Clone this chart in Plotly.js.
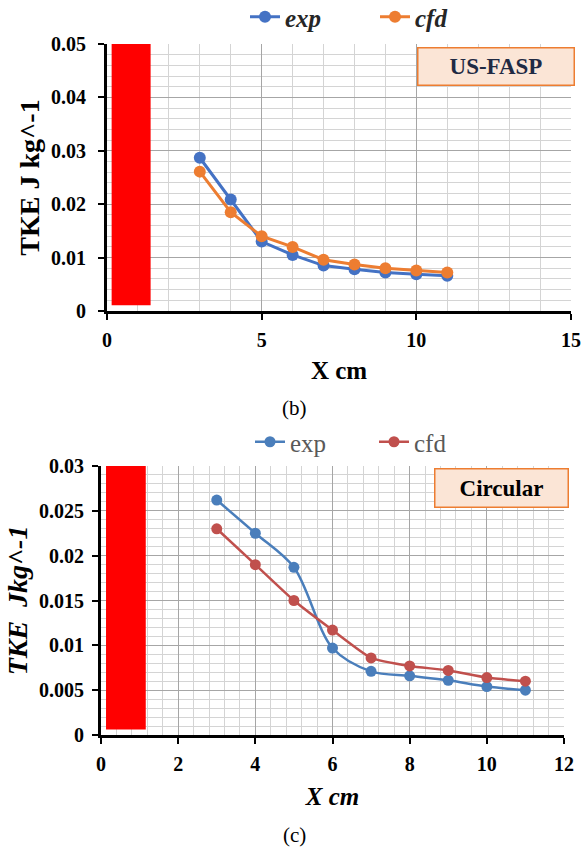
<!DOCTYPE html>
<html>
<head>
<meta charset="utf-8">
<script src="https://cdn.plot.ly/plotly-3.0.1.min.js"></script>
<style>
  html, body { margin: 0; padding: 0; background: #ffffff; }
  #chart { width: 588px; height: 853px; }
</style>
</head>
<body>
<div id="chart"></div>
<script>
// ---------- data ----------
const xPos = [3, 4, 5, 6, 7, 8, 9, 10, 11];

// (b) US-FASP
const fasp_exp = [0.0287, 0.0209, 0.0130, 0.0105, 0.0085, 0.0078, 0.0072, 0.0069, 0.0066];
const fasp_cfd = [0.0261, 0.0185, 0.0140, 0.0120, 0.0096, 0.0087, 0.0080, 0.0076, 0.0072];

// (c) Circular
const circ_exp = [0.0262, 0.0225, 0.0187, 0.0097, 0.0071, 0.0066, 0.0061, 0.0054, 0.0050];
const circ_cfd = [0.0230, 0.0190, 0.0150, 0.0117, 0.0086, 0.0077, 0.0072, 0.0064, 0.0060];

const seriesNames = ['exp', 'cfd'];

// red nozzle block (x0, x1, y0, y1) in data units
const faspBlock = [0.15, 1.41, 0.0011, 0.05];
const circBlock = [0.13, 1.16, 0.0006, 0.03];

// tick labels
const faspXTicks = [0, 5, 10, 15];
const faspYTicks = [0, 0.01, 0.02, 0.03, 0.04, 0.05];
const faspYText = ['0', '0.01', '0.02', '0.03', '0.04', '0.05'];
const circXTicks = [0, 2, 4, 6, 8, 10, 12];
const circYTicks = [0, 0.005, 0.01, 0.015, 0.02, 0.025, 0.03];
const circYText = ['0', '0.005', '0.01', '0.015', '0.02', '0.025', '0.03'];

// ---------- figure ----------
const W = 588, H = 853;
const px = v => v / W;
const py = v => 1 - v / H;

const serif = 'Liberation Serif';

const traces = [
  { x: xPos, y: fasp_exp, name: seriesNames[0], type: 'scatter', mode: 'lines+markers',
    xaxis: 'x', yaxis: 'y', legend: 'legend',
    line: { color: '#4472c4', width: 3 }, marker: { color: '#4472c4', size: 12 } },
  { x: xPos, y: fasp_cfd, name: seriesNames[1], type: 'scatter', mode: 'lines+markers',
    xaxis: 'x', yaxis: 'y', legend: 'legend',
    line: { color: '#ed7d31', width: 3 }, marker: { color: '#ed7d31', size: 12 } },
  { x: xPos, y: circ_exp, name: seriesNames[0], type: 'scatter', mode: 'lines+markers',
    xaxis: 'x2', yaxis: 'y2', legend: 'legend2',
    line: { color: '#4a7ebb', width: 2.5, shape: 'spline', smoothing: 0.9 }, marker: { color: '#4a7ebb', size: 11 } },
  { x: xPos, y: circ_cfd, name: seriesNames[1], type: 'scatter', mode: 'lines+markers',
    xaxis: 'x2', yaxis: 'y2', legend: 'legend2',
    line: { color: '#c0504d', width: 2.5, shape: 'spline', smoothing: 0.5 }, marker: { color: '#c0504d', size: 11 } }
];

const tickFont = { family: serif, size: 20, color: '#000000', weight: 'bold' };
const majorGrid = '#a6a6a6';
const minorGrid = '#d4d4d4';

function axisBase() {
  return {
    showline: true, linecolor: '#000000', linewidth: 3, mirror: false,
    ticks: 'outside', ticklen: 6, tickwidth: 2, tickcolor: '#000000',
    zeroline: false, showgrid: true, gridcolor: majorGrid, gridwidth: 1,
    tickfont: tickFont, fixedrange: true, automargin: false
  };
}

const layout = {
  width: W, height: H,
  margin: { l: 0, r: 0, t: 0, b: 0, autoexpand: false },
  paper_bgcolor: '#ffffff', plot_bgcolor: '#ffffff',
  font: { family: serif },
  showlegend: true,
  xaxis: Object.assign(axisBase(), {
    domain: [px(107), px(571)], anchor: 'y', range: [0, 15],
    tickmode: 'array', tickvals: faspXTicks, ticktext: faspXTicks.map(String),
    ticklabelstandoff: 3,
    minor: { dtick: 1, showgrid: true, gridcolor: minorGrid, gridwidth: 1, ticks: '' },
    title: { text: 'X cm', font: { family: serif, size: 25, weight: 'bold', color: '#000' }, standoff: 12 }
  }),
  yaxis: Object.assign(axisBase(), {
    domain: [py(311), py(44)], anchor: 'x', range: [0, 0.05],
    tickmode: 'array', tickvals: faspYTicks, ticktext: faspYText,
    ticklabelstandoff: 8,
    minor: { dtick: 0.002, showgrid: true, gridcolor: minorGrid, gridwidth: 1, ticks: '' },
    title: { text: 'TKE J kg^-1', font: { family: serif, size: 28, weight: 'bold', color: '#000' }, standoff: 4 }
  }),
  xaxis2: Object.assign(axisBase(), {
    domain: [px(101), px(564)], anchor: 'y2', range: [0, 12],
    tickmode: 'array', tickvals: circXTicks, ticktext: circXTicks.map(String),
    ticklabelstandoff: 3,
    minor: { dtick: 0.4, showgrid: true, gridcolor: minorGrid, gridwidth: 1, ticks: '' },
    title: { text: 'X cm', font: { family: serif, size: 25, weight: 'bold', style: 'italic', color: '#000' }, standoff: 14 }
  }),
  yaxis2: Object.assign(axisBase(), {
    domain: [py(735), py(466)], anchor: 'x2', range: [0, 0.03],
    tickmode: 'array', tickvals: circYTicks, ticktext: circYText,
    ticklabelstandoff: 4,
    minor: { dtick: 0.001, showgrid: true, gridcolor: minorGrid, gridwidth: 1, ticks: '' },
    title: { text: 'TKE  Jkg^-1', font: { family: serif, size: 28, weight: 'bold', style: 'italic', color: '#000' }, standoff: 4 }
  }),
  legend: {
    orientation: 'h', x: px(245), xanchor: 'left', y: py(17), yanchor: 'middle',
    bgcolor: 'rgba(0,0,0,0)', entrywidth: 85, entrywidthmode: 'pixels',
    font: { family: serif, size: 25, weight: 'bold', style: 'italic', color: '#262626' }
  },
  legend2: {
    orientation: 'h', x: px(250), xanchor: 'left', y: py(442), yanchor: 'middle',
    bgcolor: 'rgba(0,0,0,0)', entrywidth: 79, entrywidthmode: 'pixels',
    font: { family: serif, size: 25, color: '#595959' }
  },
  shapes: [
    { type: 'rect', xref: 'x', yref: 'y', x0: faspBlock[0], x1: faspBlock[1], y0: faspBlock[2], y1: faspBlock[3],
      fillcolor: '#ff0000', line: { width: 0 } },
    { type: 'rect', xref: 'x2', yref: 'y2', x0: circBlock[0], x1: circBlock[1], y0: circBlock[2], y1: circBlock[3],
      fillcolor: '#ff0000', line: { width: 0 } }
  ],
  annotations: [
    { xref: 'paper', yref: 'paper', x: px(495.5), y: py(67), xanchor: 'center', yanchor: 'middle',
      text: '<b>US-FASP</b>', showarrow: false, width: 155, height: 36, borderpad: 0,
      bgcolor: '#fbe5d6', bordercolor: '#ed7d31', borderwidth: 1.5,
      font: { family: serif, size: 23, color: '#1f2a44' } },
    { xref: 'paper', yref: 'paper', x: px(502), y: py(487.5), xanchor: 'center', yanchor: 'middle',
      text: '<b>Circular</b>', showarrow: false, width: 132, height: 37, borderpad: 0,
      bgcolor: '#fbe5d6', bordercolor: '#ed7d31', borderwidth: 1.5,
      font: { family: serif, size: 23, color: '#000000' } },
    { xref: 'paper', yref: 'paper', x: px(294), y: py(408), xanchor: 'center', yanchor: 'middle',
      text: '(b)', showarrow: false, font: { family: serif, size: 21, color: '#000000' } },
    { xref: 'paper', yref: 'paper', x: px(294), y: py(835), xanchor: 'center', yanchor: 'middle',
      text: '(c)', showarrow: false, font: { family: serif, size: 21, color: '#000000' } }
  ]
};

Plotly.newPlot('chart', traces, layout, { staticPlot: true, displayModeBar: false });
</script>
</body>
</html>
